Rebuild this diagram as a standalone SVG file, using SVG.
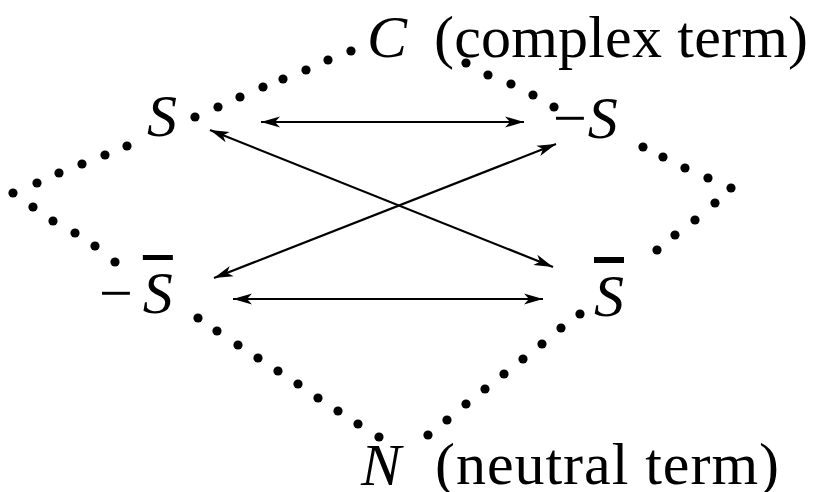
<svg xmlns="http://www.w3.org/2000/svg" width="816" height="492" viewBox="0 0 816 492">
<defs>
<marker id="ah" viewBox="-20 -7 22 14" refX="0" refY="0" markerWidth="22" markerHeight="14" markerUnits="userSpaceOnUse" orient="auto-start-reverse">
<path d="M0,0 L-19,-5.5 L-14,0 L-19,5.5 Z" fill="#000" stroke="none"/>
</marker>
<circle id="d" r="4.6" fill="#000"/>
</defs>
<rect width="816" height="492" fill="#fff"/>
<g id="dotted-edges">
<use href="#d" x="13" y="193"/><use href="#d" x="37" y="183"/><use href="#d" x="59" y="173"/><use href="#d" x="82" y="164"/><use href="#d" x="105" y="155"/><use href="#d" x="127" y="146"/>
<use href="#d" x="195" y="117"/><use href="#d" x="218" y="107"/><use href="#d" x="240" y="97"/><use href="#d" x="263" y="87"/><use href="#d" x="283" y="79"/><use href="#d" x="306" y="70"/><use href="#d" x="328" y="60"/><use href="#d" x="351" y="51"/>
<use href="#d" x="33" y="207"/><use href="#d" x="53" y="221"/><use href="#d" x="75" y="233"/><use href="#d" x="95" y="246"/><use href="#d" x="115" y="262"/>
<use href="#d" x="198" y="318"/><use href="#d" x="217" y="331"/><use href="#d" x="238" y="345"/><use href="#d" x="258" y="358"/><use href="#d" x="278" y="371"/><use href="#d" x="298" y="384"/><use href="#d" x="318" y="398"/><use href="#d" x="338" y="411"/><use href="#d" x="358" y="424"/><use href="#d" x="379" y="437"/>
<use href="#d" x="466" y="63"/><use href="#d" x="488" y="75"/><use href="#d" x="511" y="84"/><use href="#d" x="533" y="95"/><use href="#d" x="554" y="107"/>
<use href="#d" x="643" y="147"/><use href="#d" x="663" y="157"/><use href="#d" x="685" y="168"/><use href="#d" x="708" y="178"/><use href="#d" x="731" y="188"/>
<use href="#d" x="715" y="203"/><use href="#d" x="695" y="220"/><use href="#d" x="675" y="235"/><use href="#d" x="657" y="250"/>
<use href="#d" x="580" y="314"/><use href="#d" x="561" y="328"/><use href="#d" x="542" y="344"/><use href="#d" x="523" y="359"/><use href="#d" x="504" y="374"/><use href="#d" x="485" y="389"/><use href="#d" x="466" y="404"/><use href="#d" x="447" y="420"/><use href="#d" x="428" y="435"/>
</g>
<g id="connectors" stroke="#000" stroke-width="2.2" fill="none" marker-start="url(#ah)" marker-end="url(#ah)">
<line x1="261" y1="122" x2="524" y2="122"/>
<line x1="233" y1="299" x2="543" y2="299"/>
<line x1="210" y1="130" x2="553" y2="267"/>
<line x1="214" y1="278" x2="556" y2="144"/>
</g>
<g id="labels" font-family="'Liberation Serif', 'Times New Roman', serif" font-size="60" fill="#000">
<g id="node-C">
<text font-style="italic" x="367" y="57">C</text>
<text x="434" y="57" textLength="374" lengthAdjust="spacing">(complex term)</text>
</g>
<g id="node-S">
<text font-style="italic" x="147" y="136">S</text>
</g>
<g id="node-negS">
<text x="553" y="138">−<tspan font-style="italic" dx="1">S</tspan></text>
</g>
<g id="node-negSbar">
<text x="99" y="313">−<tspan font-style="italic" text-decoration="overline" dx="10">S</tspan></text>
</g>
<g id="node-Sbar">
<text font-style="italic" text-decoration="overline" x="594" y="316">S</text>
</g>
<g id="node-N">
<text font-style="italic" x="361" y="485">N</text>
<text x="435" y="484" textLength="344" lengthAdjust="spacing">(neutral term)</text>
</g>
</g>
</svg>
